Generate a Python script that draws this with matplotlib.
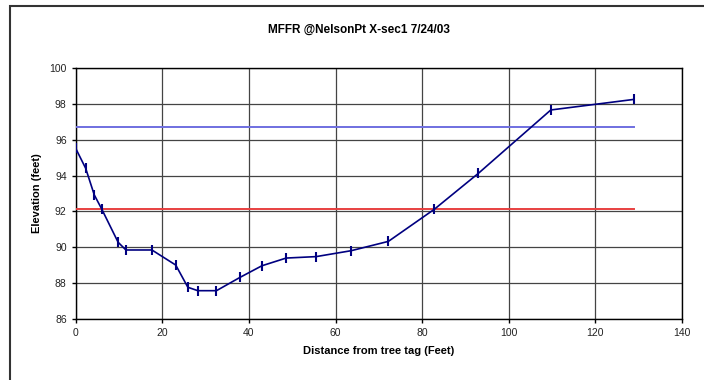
import numpy as np
import matplotlib.pyplot as plt
from matplotlib.patches import Rectangle

plt.rcParams['font.family'] = ['Liberation Sans', 'DejaVu Sans']

# cross-section survey points
distance = [0.0, 2.3, 4.3, 6.0, 9.8, 11.6, 17.6, 23.1, 25.9, 28.2, 32.5, 38.0,
            43.0, 48.6, 55.5, 63.6, 72.2, 82.8, 93.0, 109.7, 128.9]
elevation = [95.52, 94.41, 92.92, 92.14, 90.28, 89.85, 89.85, 89.01, 87.77, 87.58,
             87.58, 88.33, 88.97, 89.40, 89.48, 89.81, 90.33, 92.12, 94.13, 97.66, 98.25]

# reference levels
level_x = [0.0, 128.9]
blue_level = [96.73, 96.73]
red_level = [92.14, 92.14]

title = "MFFR @NelsonPt X-sec1 7/24/03"

fig = plt.figure(figsize=(7.04, 3.8), dpi=100)
ax = fig.add_axes([0.1075, 0.1605, 0.8613, 0.6605])

# chart border (only top/left visible in the crop)
fig.patches.append(Rectangle((10/704, -0.1), 1.2, 1 - 6/380 + 0.1, transform=fig.transFigure,
                             fill=False, edgecolor='#333333', linewidth=1.5))

ax.plot(level_x, blue_level, color='#6f6fe0', linewidth=1.4, zorder=3)
ax.plot(level_x, red_level, color='#e84040', linewidth=1.4, zorder=3)
ax.plot(distance, elevation, color='#000080', linewidth=1.2, marker='|',
        markersize=6.5, markeredgewidth=1.5, zorder=4)

ax.set_xlim(0, 140)
ax.set_ylim(86, 100)
ax.set_xticks(np.arange(0, 141, 20))
ax.set_yticks(np.arange(86, 101, 2))
ax.grid(True, color='#444444', linewidth=0.9)
ax.set_axisbelow(True)
for s in ax.spines.values():
    s.set_color('black')
    s.set_linewidth(1.0)
ax.tick_params(labelsize=7.5, direction='out', length=3, width=1, colors='black')
for lbl in ax.get_xticklabels() + ax.get_yticklabels():
    lbl.set_color('#222222')

ax.set_xlabel("Distance from tree tag (Feet)", fontsize=8, fontweight='bold', labelpad=6)
ax.set_ylabel("Elevation (feet)", fontsize=8, fontweight='bold', labelpad=5)
fig.text(359/704, 1 - 30/380, title, ha='center', va='center', fontsize=8.5, fontweight='bold')

fig.savefig('out.png', dpi=100)
